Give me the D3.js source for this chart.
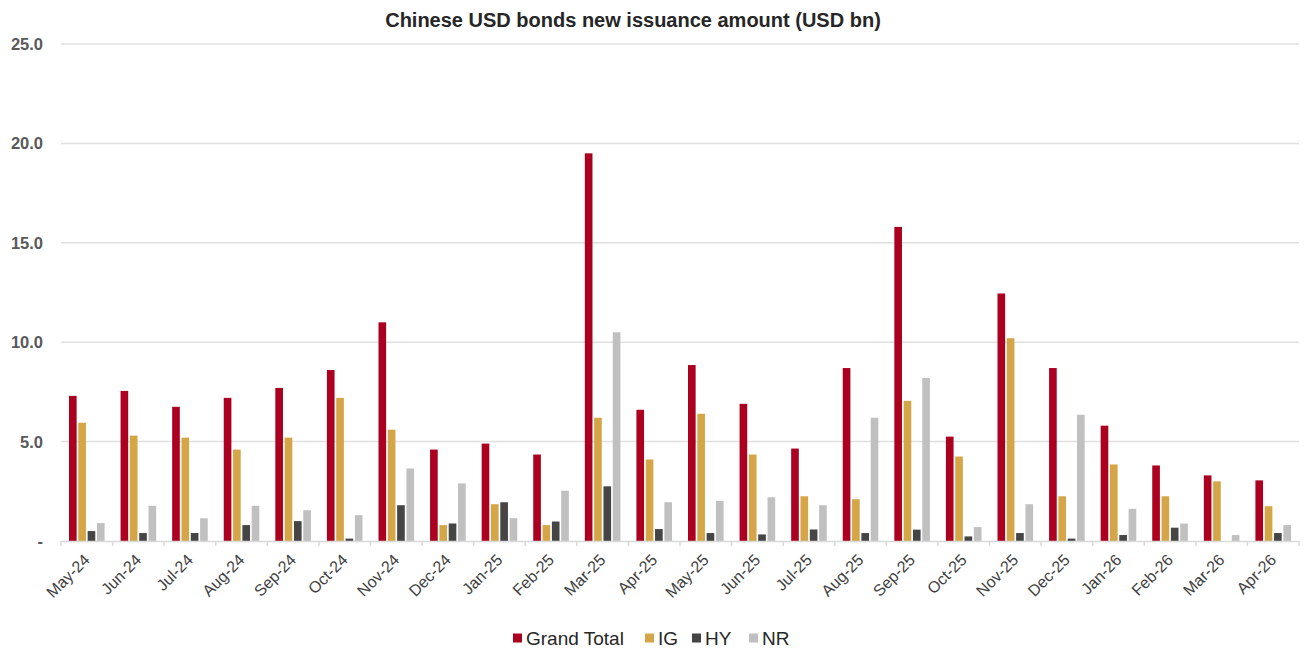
<!DOCTYPE html>
<html>
<head>
<meta charset="utf-8">
<script src="https://cdn.jsdelivr.net/npm/d3@7"></script>
<style>
  body { margin: 0; background: #fff; }
  text { font-family: "Liberation Sans", Arial, sans-serif; }
</style>
</head>
<body>
<div class="canvas"></div>
<script>
const months = ['May-24', 'Jun-24', 'Jul-24', 'Aug-24', 'Sep-24', 'Oct-24', 'Nov-24', 'Dec-24',
    'Jan-25', 'Feb-25', 'Mar-25', 'Apr-25', 'May-25', 'Jun-25', 'Jul-25', 'Aug-25',
    'Sep-25', 'Oct-25', 'Nov-25', 'Dec-25', 'Jan-26', 'Feb-26', 'Mar-26', 'Apr-26'];

const seriesNames = ['Grand Total', 'IG', 'HY', 'NR'];

const grandTotal = [7.3, 7.55, 6.75, 7.2, 7.7, 8.6, 11.0, 4.6, 4.9, 4.35, 19.5, 6.6,
    8.85, 6.9, 4.65, 8.7, 15.8, 5.25, 12.45, 8.7, 5.8, 3.8, 3.3, 3.05];
const ig = [5.95, 5.3, 5.2, 4.6, 5.2, 7.2, 5.6, 0.8, 1.85, 0.8, 6.2, 4.1,
    6.4, 4.35, 2.25, 2.1, 7.05, 4.25, 10.2, 2.25, 3.85, 2.25, 3.0, 1.75];
const hy = [0.5, 0.4, 0.4, 0.8, 1.0, 0.12, 1.8, 0.88, 1.95, 0.98, 2.75, 0.6,
    0.4, 0.33, 0.58, 0.4, 0.57, 0.23, 0.4, 0.12, 0.3, 0.67, 0, 0.4];
const nr = [0.9, 1.77, 1.14, 1.77, 1.55, 1.3, 3.65, 2.9, 1.15, 2.53, 10.5, 1.95,
    2.02, 2.2, 1.8, 6.2, 8.2, 0.7, 1.85, 6.35, 1.62, 0.88, 0.3, 0.8];

const yTicks = [0, 5, 10, 15, 20, 25];

const dims = {
    width: 1306,
    height: 650,
    left: 61,
    right: 1299,
    top: 44,
    bottom: 541
};

const colour = d3.scaleOrdinal()
    .domain(seriesNames)
    .range(['#ab0020', '#d4a647', '#454545', '#c0c0c0']);

const seriesValues = [grandTotal, ig, hy, nr];
const rows = months.map((m, i) => ({
    month: m,
    values: seriesNames.map((s, j) => ({ key: s, value: seriesValues[j][i] }))
}));

const svg = d3.select('.canvas')
    .append('svg')
    .attr('width', dims.width)
    .attr('height', dims.height);

const x0 = d3.scaleBand()
    .domain(months)
    .range([dims.left, dims.right])
    .paddingInner(0.31)
    .paddingOuter(0.155);

const x1 = d3.scaleBand()
    .domain(seriesNames)
    .range([0, x0.bandwidth()])
    .paddingInner(0.18);

const y = d3.scaleLinear()
    .domain([0, 25])
    .range([dims.bottom, dims.top]);

// title
svg.append('text')
    .attr('x', 633)
    .attr('y', 27)
    .attr('text-anchor', 'middle')
    .attr('font-size', 20)
    .attr('font-weight', 'bold')
    .attr('fill', '#262626')
    .text('Chinese USD bonds new issuance amount (USD bn)');

// grid lines + y labels
svg.append('g')
    .selectAll('line')
    .data(yTicks.filter(t => t > 0))
    .enter()
    .append('line')
    .attr('x1', dims.left)
    .attr('x2', dims.right)
    .attr('y1', d => y(d))
    .attr('y2', d => y(d))
    .attr('stroke', '#e0e0e0')
    .attr('stroke-width', 1.5);

svg.append('g')
    .selectAll('text')
    .data(yTicks)
    .enter()
    .append('text')
    .attr('x', 43)
    .attr('y', d => y(d) + 6)
    .attr('text-anchor', 'end')
    .attr('font-size', 16.5)
    .attr('font-weight', 'bold')
    .attr('fill', '#595959')
    .text(d => d === 0 ? '-' : d3.format('.1f')(d));

// bars
const groups = svg.append('g')
    .selectAll('g')
    .data(rows)
    .enter()
    .append('g')
    .attr('transform', d => `translate(${x0(d.month)},0)`);

groups.selectAll('rect')
    .data(d => d.values)
    .enter()
    .append('rect')
    .attr('x', d => x1(d.key))
    .attr('width', x1.bandwidth())
    .attr('y', d => y(d.value))
    .attr('height', d => y(0) - y(d.value))
    .attr('fill', d => colour(d.key));

// x axis
const xAxis = svg.append('g')
    .attr('transform', `translate(0,${dims.bottom})`)
    .call(d3.axisBottom(x0).tickSize(0).tickFormat(''));
xAxis.select('.domain').attr('stroke', '#d9d9d9').attr('stroke-width', 1.5);

const step = x0.step();
svg.append('g')
    .selectAll('line')
    .data(d3.range(months.length + 1))
    .enter()
    .append('line')
    .attr('x1', i => dims.left + i * step)
    .attr('x2', i => dims.left + i * step)
    .attr('y1', dims.bottom)
    .attr('y2', dims.bottom + 5)
    .attr('stroke', '#d9d9d9')
    .attr('stroke-width', 1.5);

svg.append('g')
    .selectAll('text')
    .data(months)
    .enter()
    .append('text')
    .attr('text-anchor', 'end')
    .attr('font-size', 16)
    .attr('fill', '#404040')
    .attr('transform', d => `translate(${x0(d) + x0.bandwidth() / 2 + 4},${dims.bottom + 20}) rotate(-45)`)
    .text(d => d);

// legend
const legendItems = [
    { key: 'Grand Total', x: 513 },
    { key: 'IG', x: 645 },
    { key: 'HY', x: 692 },
    { key: 'NR', x: 749 }
];
const legend = svg.append('g')
    .selectAll('g')
    .data(legendItems)
    .enter()
    .append('g')
    .attr('transform', d => `translate(${d.x},645)`);

legend.append('rect')
    .attr('x', 0)
    .attr('y', -11.5)
    .attr('width', 9)
    .attr('height', 9)
    .attr('fill', d => colour(d.key));

legend.append('text')
    .attr('x', 13)
    .attr('y', 0)
    .attr('font-size', 19)
    .attr('fill', '#262626')
    .text(d => d.key);
</script>
</body>
</html>
